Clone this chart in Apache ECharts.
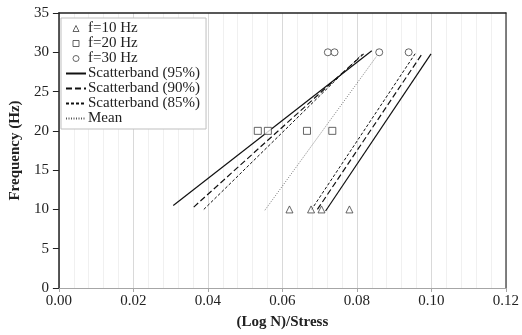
<!DOCTYPE html>
<html>
<head>
<meta charset="utf-8">
<script src="https://cdn.jsdelivr.net/npm/echarts@6/dist/echarts.min.js"></script>
<style>
  html, body { margin: 0; padding: 0; background: #fff; }
  #chart { width: 522px; height: 335px; }
</style>
</head>
<body>
<div id="chart"></div>
<script>
// test points: [ (Log N)/Stress , frequency ]
var pts10Hz = [[0.0619, 10], [0.0677, 10], [0.0705, 10], [0.0780, 10]];
var pts20Hz = [[0.0534, 20], [0.0561, 20], [0.0666, 20], [0.0734, 20]];
var pts30Hz = [[0.0722, 30], [0.0740, 30], [0.0860, 30], [0.0939, 30]];

// scatterband lines, left and right edge of each band
var band95Left = [[0.0307, 10.5], [0.0840, 30.2]];
var band95Right = [[0.0716, 9.8], [0.0999, 29.8]];
var band90Left = [[0.0362, 10.3], [0.0818, 29.8]];
var band90Right = [[0.0694, 10.0], [0.0975, 29.8]];
var band85Left = [[0.0389, 10.0], [0.0813, 29.7]];
var band85Right = [[0.0677, 9.9], [0.0959, 30.0]];
var meanLine = [[0.0553, 9.9], [0.0853, 29.5]];

var xTicks = { min: 0, max: 0.12, step: 0.02 };
var yTicks = { min: 0, max: 35, step: 5 };

var FONT = 'Liberation Serif';
var chart = echarts.init(document.getElementById('chart'));

function markerSeries(name, symbol, data) {
    return {
        name: name,
        type: 'scatter',
        symbol: symbol,
        symbolSize: 7,
        itemStyle: { color: '#fff', borderColor: '#404040', borderWidth: 1 },
        data: data,
        z: 5
    };
}

function bandSeries(name, data, dash, color, width) {
    return {
        name: name,
        type: 'line',
        symbol: 'none',
        showSymbol: false,
        lineStyle: { color: color, width: width, type: dash },
        itemStyle: { color: color },
        data: data,
        z: 3
    };
}

// legend: path icons so they keep a square aspect, no dot on the line entries
var TRI_PATH = 'path://M0,10L5,0L10,10Z';
var SQ_PATH = 'path://M0,0L10,0L10,10L0,10Z';
var markerIcon = function (name, icon) {
    return { name: name, icon: icon, itemStyle: { color: '#fff', borderColor: '#404040', borderWidth: 1 } };
};
var lineIcon = function (name) {
    return { name: name, itemStyle: { opacity: 0 } };
};

var option = {
    animation: false,
    grid: { left: 57, right: 13, top: 13, bottom: 45 },
    legend: {
        orient: 'vertical',
        left: 61,
        top: 18,
        padding: [3, 6, 3, 4],
        itemWidth: 20,
        itemHeight: 6,
        itemGap: 0,
        symbolKeepAspect: true,
        backgroundColor: '#fff',
        borderColor: '#bfbfbf',
        borderWidth: 1,
        textStyle: { fontFamily: FONT, fontSize: 15, color: '#222', padding: [0, 0, 0, -3] },
        data: [
            markerIcon('f=10 Hz', TRI_PATH),
            markerIcon('f=20 Hz', SQ_PATH),
            markerIcon('f=30 Hz', 'circle'),
            lineIcon('Scatterband (95%)'),
            lineIcon('Scatterband (90%)'),
            lineIcon('Scatterband (85%)'),
            lineIcon('Mean')
        ]
    },
    xAxis: [{
        type: 'value',
        min: xTicks.min,
        max: xTicks.max,
        interval: xTicks.step,
        name: '(Log N)/Stress',
        nameLocation: 'middle',
        nameGap: 27,
        nameTextStyle: { fontFamily: FONT, fontSize: 15, fontWeight: 'bold', color: '#222' },
        axisLine: { lineStyle: { color: '#a6a6a6', width: 1 } },
        axisTick: { show: true, length: 4, lineStyle: { color: '#a6a6a6' } },
        axisLabel: {
            fontFamily: FONT, fontSize: 15, color: '#222', margin: 6,
            formatter: function (v) { return v.toFixed(2); }
        },
        splitLine: { show: true, lineStyle: { color: '#d9d9d9' } },
        minorTick: { show: false, splitNumber: 5 },
        minorSplitLine: { show: true, lineStyle: { color: '#f0f0f0' } }
    }, {
        type: 'value',
        position: 'top',
        min: xTicks.min,
        max: xTicks.max,
        axisLine: { show: true, onZero: false, lineStyle: { color: '#222', width: 1.5 } },
        axisTick: { show: false },
        axisLabel: { show: false },
        splitLine: { show: false }
    }],
    yAxis: [{
        type: 'value',
        min: yTicks.min,
        max: yTicks.max,
        interval: yTicks.step,
        name: 'Frequency (Hz)',
        nameLocation: 'middle',
        nameGap: 34,
        nameTextStyle: { fontFamily: FONT, fontSize: 15, fontWeight: 'bold', color: '#222' },
        axisLine: { show: true, lineStyle: { color: '#222', width: 1.5 } },
        axisTick: { show: true, length: 6, lineStyle: { color: '#222' } },
        axisLabel: { fontFamily: FONT, fontSize: 15, color: '#222', margin: 10 },
        splitLine: { show: false }
    }, {
        type: 'value',
        position: 'right',
        min: yTicks.min,
        max: yTicks.max,
        axisLine: { show: true, onZero: false, lineStyle: { color: '#595959', width: 1.5 } },
        axisTick: { show: false },
        axisLabel: { show: false },
        splitLine: { show: false }
    }],
    series: [
        markerSeries('f=10 Hz', 'triangle', pts10Hz),
        markerSeries('f=20 Hz', 'rect', pts20Hz),
        markerSeries('f=30 Hz', 'circle', pts30Hz),
        bandSeries('Scatterband (95%)', band95Left, 'solid', '#111', 1.2),
        bandSeries('Scatterband (95%)', band95Right, 'solid', '#111', 1.2),
        bandSeries('Scatterband (90%)', band90Left, [6, 3], '#111', 1.2),
        bandSeries('Scatterband (90%)', band90Right, [6, 3], '#111', 1.2),
        bandSeries('Scatterband (85%)', band85Left, [3, 2], '#111', 1),
        bandSeries('Scatterband (85%)', band85Right, [3, 2], '#111', 1),
        bandSeries('Mean', meanLine, [1, 1.5], '#555', 0.8)
    ]
};

chart.setOption(option);
</script>
</body>
</html>
